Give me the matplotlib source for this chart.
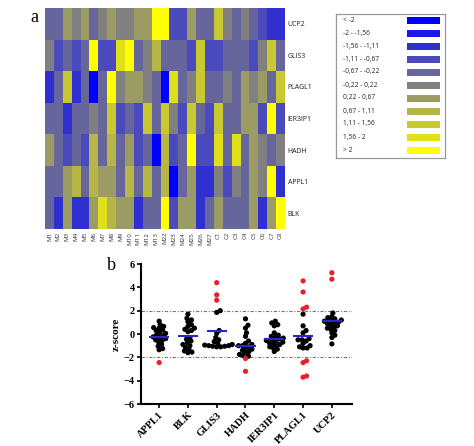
import matplotlib
matplotlib.use("Agg")
import matplotlib.pyplot as plt
from matplotlib.colors import ListedColormap, BoundaryNorm
from matplotlib.patches import Rectangle
import numpy as np

# heatmap data (z-scores, one row per gene, top to bottom)
genes = ["UCP2", "GLIS3", "PLAGL1", "IER3IP1", "HADH", "APPL1", "BLK"]
samples = ["M1", "M2", "M3", "M4", "M5", "M6", "M7", "M8", "M9", "M10", "M11", "M12", "M13",
           "M22", "M23", "M24", "M25", "M26", "M27", "C1", "C2", "C3", "C4", "C5", "C6", "C7", "C8"]
ucp2_z = [-0.45, -0.45, 0.45, 0, 0.45, -0.45, 0, 0.45, 0, 0, 0.45, 0.45, 2.5, 2.5, -0.9, -0.9,
          0.45, -0.45, -0.45, 1.3, 0, -0.45, 0, -0.45, -0.9, -1.3, -1.3]
glis3_z = [0, -0.9, -0.45, -0.9, -0.45, 2.5, -0.9, -0.9, 1.8, 2.5, -0.45, 0, 0.9, -0.45, -0.45,
           -0.45, -0.9, 1.3, -0.9, -0.9, -0.45, -0.45, -0.45, -0.9, 0, 1.3, -0.45]
plagl1_z = [-1.3, -0.45, 1.3, -1.3, -0.45, -2.5, -0.45, 2.5, 0, 0.45, 0.45, 0, -0.45, -2.5, 1.8,
            -0.45, 0, 1.3, -0.45, -0.45, 0, -0.45, 0.45, 0, 0.45, -0.45, 1.3]
ier3ip1_z = [-0.45, -0.45, -1.3, -0.45, -0.45, 0, -0.45, 1.3, -0.9, -0.45, -0.9, 1.3, -0.45, 1.3,
             0, -0.9, 1.3, -0.45, -0.9, 1.3, -0.45, -0.45, 0.45, 0.45, -0.9, 2.5, -0.9]
hadh_z = [0.45, -0.45, -0.9, -0.45, -0.9, 0.9, -0.45, 0.9, -0.45, 0.45, -0.9, -0.45, -2.5, 0.9,
          -0.9, -0.45, 2.5, -0.9, -0.9, 1.8, -0.45, 1.8, -0.45, 0.45, 0, -0.45, 0]
appl1_z = [-0.45, -0.45, 0.45, 0.9, -0.45, 0.9, 0.45, 0.45, -0.45, 0.9, -0.45, 0.9, -0.45, 0.9,
           -2.5, -0.45, 0.45, -1.3, -1.3, 0, -0.9, 0, -0.45, 0.45, 0, 2.5, -1.3]
blk_z = [-0.45, -1.3, 0.45, -1.3, -1.3, 0.45, 1.8, 0.9, 0.45, 0.45, -1.3, -0.45, -0.45, 2.5, -0.9,
         0.45, 0.45, -1.3, -0.45, 0.45, -0.45, -0.45, -0.45, 0.45, -1.3, 0.45, 2.5]

bin_edges = [-10, -2, -1.56, -1.11, -0.67, -0.22, 0.22, 0.67, 1.11, 1.56, 2, 10]
bin_labels = ["< -2", "-2 - -1,56", "-1,56 - -1,11", "-1,11 - -0,67", "-0,67 - -0,22",
              "-0,22 - 0,22", "0,22 - 0,67", "0,67 - 1,11", "1,11 - 1,56", "1,56 - 2", "> 2"]
bin_colors = ["#0000ff", "#1a1ae6", "#3030d0", "#4a4abc", "#66669c", "#808080",
              "#9b9b64", "#b5b548", "#c8c832", "#e0e01a", "#ffff00"]

# scatter data (z-scores per gene)
groups = ["APPL1", "BLK", "GLIS3", "HADH", "IER3IP1", "PLAGL1", "UCP2"]
appl1_s = [1.1, 0.8, 0.65, 0.55, 0.5, 0.35, 0.3, 0.15, 0.05, -0.05, -0.15, -0.25, -0.3, -0.4,
           -0.5, -0.55, -0.7, -0.9, -1.05, -1.25, -1.35, -2.45]
blk_s = [1.7, 1.35, 1.2, 1.05, 0.8, 0.65, 0.5, 0.4, 0.3, 0.2, -0.3, -0.45, -0.6, -0.75, -0.9,
         -1.0, -1.15, -1.3, -1.45, -1.6, -1.55]
glis3_s = [4.4, 3.35, 2.9, 2.0, 1.85, 0.3, 0.05, -0.3, -0.5, -0.65, -0.8, -0.9, -0.95, -1.0,
           -1.0, -1.05, -1.05, -1.1, -1.1]
hadh_s = [1.3, 0.75, 0.5, 0.1, -0.2, -0.6, -0.8, -0.9, -1.0, -1.0, -1.1, -1.2, -1.3, -1.4,
          -1.5, -1.6, -1.75, -1.85, -1.9, -2.1, -3.2]
ier3ip1_s = [1.1, 0.95, 0.8, 0.7, 0.1, -0.1, -0.2, -0.3, -0.35, -0.4, -0.5, -0.55, -0.6, -0.7,
             -0.75, -0.8, -0.9, -1.0, -1.1, -1.2, -1.3, -1.5]
plagl1_s = [4.55, 3.6, 2.3, 2.15, 1.7, 0.7, 0.3, 0.1, -0.4, -0.5, -0.5, -0.6, -0.8, -1.0, -1.1,
            -1.2, -1.2, -2.3, -2.45, -3.6, -3.7]
ucp2_s = [5.25, 4.7, 1.8, 1.5, 1.4, 1.3, 1.2, 1.2, 1.1, 1.0, 1.0, 0.9, 0.8, 0.7, 0.6, 0.5, 0.4,
          0.3, 0.1, -0.1, -0.3, -0.85]

W, H = 474, 446
fig = plt.figure(figsize=(W / 100, H / 100), dpi=100)


def box(x0, y0, x1, y1):
    return [x0 / W, 1 - y1 / H, (x1 - x0) / W, (y1 - y0) / H]


# ---- panel a: heatmap
ax = fig.add_axes(box(45, 8, 285, 229))
data = np.array([ucp2_z, glis3_z, plagl1_z, ier3ip1_z, hadh_z, appl1_z, blk_z])
cmap = ListedColormap(bin_colors)
norm = BoundaryNorm(bin_edges, cmap.N)
ax.pcolormesh(data, cmap=cmap, norm=norm)
ax.set_ylim(len(genes), 0)
ax.set_xlim(0, len(samples))
ax.set_xticks(np.arange(len(samples)) + 0.5)
ax.set_xticklabels(samples, rotation=90, fontsize=4.5, family="Open Sans", color="#333333")
ax.set_yticks(np.arange(len(genes)) + 0.5)
ax.set_yticklabels(genes, fontsize=5, family="Open Sans", color="#222222")
ax.yaxis.tick_right()
ax.tick_params(length=0, pad=2)
for s in ax.spines.values():
    s.set_visible(False)
fig.text(30 / W, 1 - 17 / H, "a", fontsize=13, family="Liberation Serif", va="center")

# legend box
lg = fig.add_axes(box(336, 14, 445, 158))
lg.set_xlim(0, 109)
lg.set_ylim(144, 0)
lg.set_xticks([])
lg.set_yticks([])
for s in lg.spines.values():
    s.set_color("#999999")
    s.set_linewidth(0.9)
for i, (lab, col) in enumerate(zip(bin_labels, bin_colors)):
    yc = 6 + 13 * i
    lg.text(7, yc, lab, fontsize=4.8, family="Open Sans", va="center", color="#222222")
    lg.add_patch(Rectangle((71, yc - 3.5), 33, 7, facecolor=col, edgecolor="none"))

# ---- panel b: scatter
bx = fig.add_axes(box(141, 264, 352, 404))
series = [appl1_s, blk_s, glis3_s, hadh_s, ier3ip1_s, plagl1_s, ucp2_s]
px_x, px_y = 28.8, 11.67   # pixels per data unit
diam = 3.6
for i, vals in enumerate(series):
    vals = np.array(vals)
    order = np.argsort(vals)
    placed = []
    offs = np.zeros(len(vals))
    for k in order:
        yk = vals[k] * px_y
        ok = 0.0
        for step in range(0, 40):
            cands = [0.0] if step == 0 else [step * 0.5, -step * 0.5]
            hit = None
            for c in cands:
                if all((c - px) ** 2 + (yk - py) ** 2 >= diam ** 2 for px, py in placed):
                    hit = c
                    break
            if hit is not None:
                ok = hit
                break
        placed.append((ok, yk))
        offs[k] = ok / px_x
    colors = np.where(np.abs(vals) > 2, "#e8202a", "black")
    bx.scatter(i + offs, vals, s=14, c=colors, linewidths=0, zorder=2)
    m = vals.mean()
    bx.hlines(m, i - 0.35, i + 0.35, color="#2828c8", lw=1.5, zorder=3)

bx.axhline(2, color="#777777", lw=0.8, ls=(0, (3, 1.5, 1, 1.5)), zorder=1)
bx.axhline(-2, color="#777777", lw=0.8, ls=(0, (3, 1.5, 1, 1.5)), zorder=1)
bx.set_xlim(-0.63, 6.7)
bx.set_ylim(-6, 6)
bx.set_yticks(np.arange(-6, 7, 2))
bx.set_xticks(range(len(groups)))
bx.set_xticklabels(groups, rotation=45, ha="right", rotation_mode="anchor")
for t in bx.get_xticklabels() + bx.get_yticklabels():
    t.set_family("Liberation Serif")
    t.set_fontweight("bold")
    t.set_fontsize(7.5)
bx.spines["top"].set_visible(False)
bx.spines["right"].set_visible(False)
bx.spines["left"].set_linewidth(1.5)
bx.spines["bottom"].set_linewidth(1.5)
bx.tick_params(width=1.2, length=3, pad=1.5)
bx.set_ylabel("z-score", family="Liberation Serif", fontweight="bold", fontsize=8, labelpad=2)
fig.text(107 / W, 1 - 265 / H, "b", fontsize=13, family="Liberation Serif", va="center")

fig.savefig("out.png", dpi=100)
